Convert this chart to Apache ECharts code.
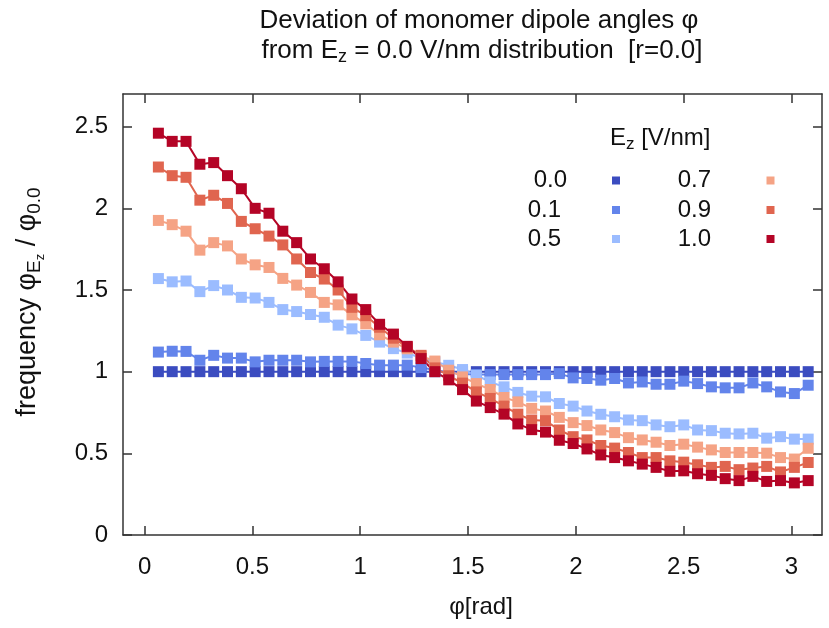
<!DOCTYPE html>
<html><head><meta charset="utf-8">
<script src="https://cdn.jsdelivr.net/npm/echarts@6/dist/echarts.min.js"></script>
<style>html,body{margin:0;padding:0;background:#fff}#c{width:829px;height:628px}</style>
</head><body><div id="c"></div>
<script>
// angle bins (rad)
const phi = [0.0641,0.1282,0.1923,0.2565,0.3206,0.3847,0.4488,0.5129,0.5770,0.6411,
0.7053,0.7694,0.8335,0.8976,0.9617,1.0258,1.0899,1.1541,1.2182,1.2823,
1.3464,1.4105,1.4746,1.5387,1.6029,1.6670,1.7311,1.7952,1.8593,1.9234,
1.9875,2.0517,2.1158,2.1799,2.2440,2.3081,2.3722,2.4363,2.5004,2.5646,
2.6287,2.6928,2.7569,2.8210,2.8851,2.9492,3.0134,3.0775];

const ez00 = [1,1,1,1,1,1,1,1,1,1,1,1,1,1,1,1,1,1,1,1,1,1,1,1,1,1,1,1,1,1,1,1,1,1,1,1,1,1,1,1,1,1,1,1,1,1,1,1];
const ez01 = [1.12,1.125,1.124,1.07,1.10,1.083,1.083,1.06,1.07,1.07,1.07,1.06,1.063,1.063,1.063,1.05,1.04,1.04,1.04,1.025,
1.01,0.995,0.985,0.982,0.982,0.982,0.982,0.982,0.982,0.988,0.962,0.958,0.948,0.958,0.931,0.937,0.923,0.923,0.942,0.927,
0.907,0.901,0.901,0.931,0.907,0.876,0.866,0.917];
const ez05 = [1.57,1.55,1.555,1.49,1.527,1.50,1.455,1.451,1.424,1.38,1.368,1.35,1.333,1.285,1.262,1.222,1.181,1.141,1.114,1.083,
1.06,1.039,1.013,0.978,0.937,0.907,0.873,0.85,0.846,0.805,0.789,0.759,0.739,0.724,0.704,0.70,0.674,0.663,0.674,0.643,
0.639,0.623,0.619,0.623,0.593,0.602,0.587,0.587];
const ez07 = [1.926,1.90,1.86,1.744,1.79,1.77,1.69,1.654,1.638,1.571,1.53,1.485,1.424,1.409,1.348,1.293,1.226,1.181,1.14,1.094,
1.065,1.009,0.968,0.927,0.891,0.842,0.815,0.775,0.759,0.72,0.688,0.67,0.643,0.627,0.596,0.582,0.568,0.548,0.556,0.538,
0.521,0.505,0.505,0.505,0.501,0.474,0.465,0.531];
const ez09 = [2.253,2.20,2.19,2.05,2.08,2.03,1.92,1.875,1.83,1.776,1.69,1.607,1.567,1.50,1.394,1.343,1.272,1.205,1.15,1.10,
1.023,0.975,0.93,0.876,0.836,0.789,0.74,0.704,0.70,0.643,0.602,0.582,0.548,0.532,0.505,0.474,0.474,0.454,0.446,0.43,
0.414,0.42,0.40,0.41,0.42,0.386,0.414,0.444];
const ez10 = [2.46,2.41,2.41,2.27,2.28,2.20,2.12,2.00,1.97,1.86,1.79,1.69,1.63,1.55,1.445,1.38,1.29,1.23,1.155,1.08,
1.00,0.95,0.89,0.82,0.78,0.74,0.68,0.645,0.63,0.58,0.56,0.527,0.49,0.474,0.454,0.434,0.414,0.39,0.393,0.375,
0.365,0.345,0.333,0.359,0.328,0.333,0.319,0.333];

const seriesNames = ['0.0','0.1','0.5','0.7','0.9','1.0'];
const seriesValues = [ez00, ez01, ez05, ez07, ez09, ez10];
const xTicks = [0,0.5,1,1.5,2,2.5,3];
const yTicks = [0,0.5,1,1.5,2,2.5];

const colors = ['#3b4cc0','#6384eb','#9bbcff','#f5a385','#e0654f','#b40426'];
const F = 'Liberation Sans, Arial, sans-serif';
const FS = 24;
const axisCol = '#333';

const chart = echarts.init(document.getElementById('c'), null, {renderer:'canvas'});

function xAx(pos, labels){
  return {type:'value', position:pos, min:-0.1, max:Math.PI,
    axisLine:{show:true, onZero:false, lineStyle:{color:axisCol, width:1.5}},
    axisTick:{show:true, inside:true, length:9, customValues:xTicks, lineStyle:{color:axisCol, width:1.5}},
    axisLabel:{show:labels, customValues:xTicks, fontSize:FS, fontFamily:F, color:'#111', margin:20},
    splitLine:{show:false}};
}
function yAx(pos, labels){
  return {type:'value', position:pos, min:0, max:2.7,
    axisLine:{show:true, onZero:false, lineStyle:{color:axisCol, width:1.5}},
    axisTick:{show:true, inside:true, length:9, customValues:yTicks, lineStyle:{color:axisCol, width:1.5}},
    axisLabel:{show:labels, customValues:yTicks, fontSize:FS, fontFamily:F, color:'#111', margin:15},
    splitLine:{show:false}};
}

const series = seriesNames.map((n,k)=>({
  name:n, type:'line', xAxisIndex:0, yAxisIndex:0,
  data: phi.map((x,i)=>[x, seriesValues[k][i]]),
  symbol:'rect', symbolSize:11, showAllSymbol:true,
  itemStyle:{color:colors[k]}, lineStyle:{color:colors[k], width:2},
  animation:false
}));

// legend drawn as graphic
const legendRows = [180.5, 210, 239];
const graphics = [];
const leftNames = seriesNames.slice(0,3), rightNames = seriesNames.slice(3);
leftNames.forEach((n,i)=>{
  graphics.push({type:'text', x: i===0?567:561, y:legendRows[i], style:{text:n, fontSize:FS, fontFamily:F, fill:'#111', align:'right', verticalAlign:'middle'}});
  graphics.push({type:'rect', shape:{x:612, y:legendRows[i]-4, width:8, height:8}, style:{fill:colors[i]}});
});
rightNames.forEach((n,i)=>{
  graphics.push({type:'text', x:711, y:legendRows[i], style:{text:n, fontSize:FS, fontFamily:F, fill:'#111', align:'right', verticalAlign:'middle'}});
  graphics.push({type:'rect', shape:{x:766.5, y:legendRows[i]-4, width:8, height:8}, style:{fill:colors[i+3]}});
});
graphics.push({type:'text', x:610, y:138, style:{text:'E{s|z} [V/nm]', fontSize:FS, fontFamily:F, fill:'#111', align:'left', verticalAlign:'middle',
  rich:{s:{fontSize:17, fontFamily:F, fill:'#111', padding:[12,0,0,0]}}}});
// title
graphics.push({type:'text', x:479, y:21, style:{text:'Deviation of monomer dipole angles φ', fontSize:26, fontFamily:F, fill:'#111', align:'center', verticalAlign:'middle'}});
graphics.push({type:'text', x:482, y:51, style:{text:'from E{s|z} = 0.0 V/nm distribution  [r=0.0]', fontSize:26, fontFamily:F, fill:'#111', align:'center', verticalAlign:'middle',
  rich:{s:{fontSize:18, fontFamily:F, fill:'#111', padding:[13,0,0,0]}}}});
// axis titles
graphics.push({type:'text', x:481, y:607, style:{text:'φ[rad]', fontSize:FS, fontFamily:F, fill:'#111', align:'center', verticalAlign:'middle'}});
graphics.push({type:'text', x:28, y:302, rotation:Math.PI/2, style:{text:'frequency φ{s|E}{ss|z} / φ{s|0.0}', fontSize:27, fontFamily:F, fill:'#111', align:'center', verticalAlign:'middle',
  rich:{s:{fontSize:19, fontFamily:F, fill:'#111', padding:[13,0,0,0]}, ss:{fontSize:13, fontFamily:F, fill:'#111', padding:[24,0,0,0]}}}});

chart.setOption({
  animation:false,
  backgroundColor:'#fff',
  grid:{left:123, right:7, top:94, bottom:93, containLabel:false},
  xAxis:[xAx('bottom', true), xAx('top', false)],
  yAxis:[yAx('left', true), yAx('right', false)],
  series: series,
  graphic: graphics
});
</script></body></html>
